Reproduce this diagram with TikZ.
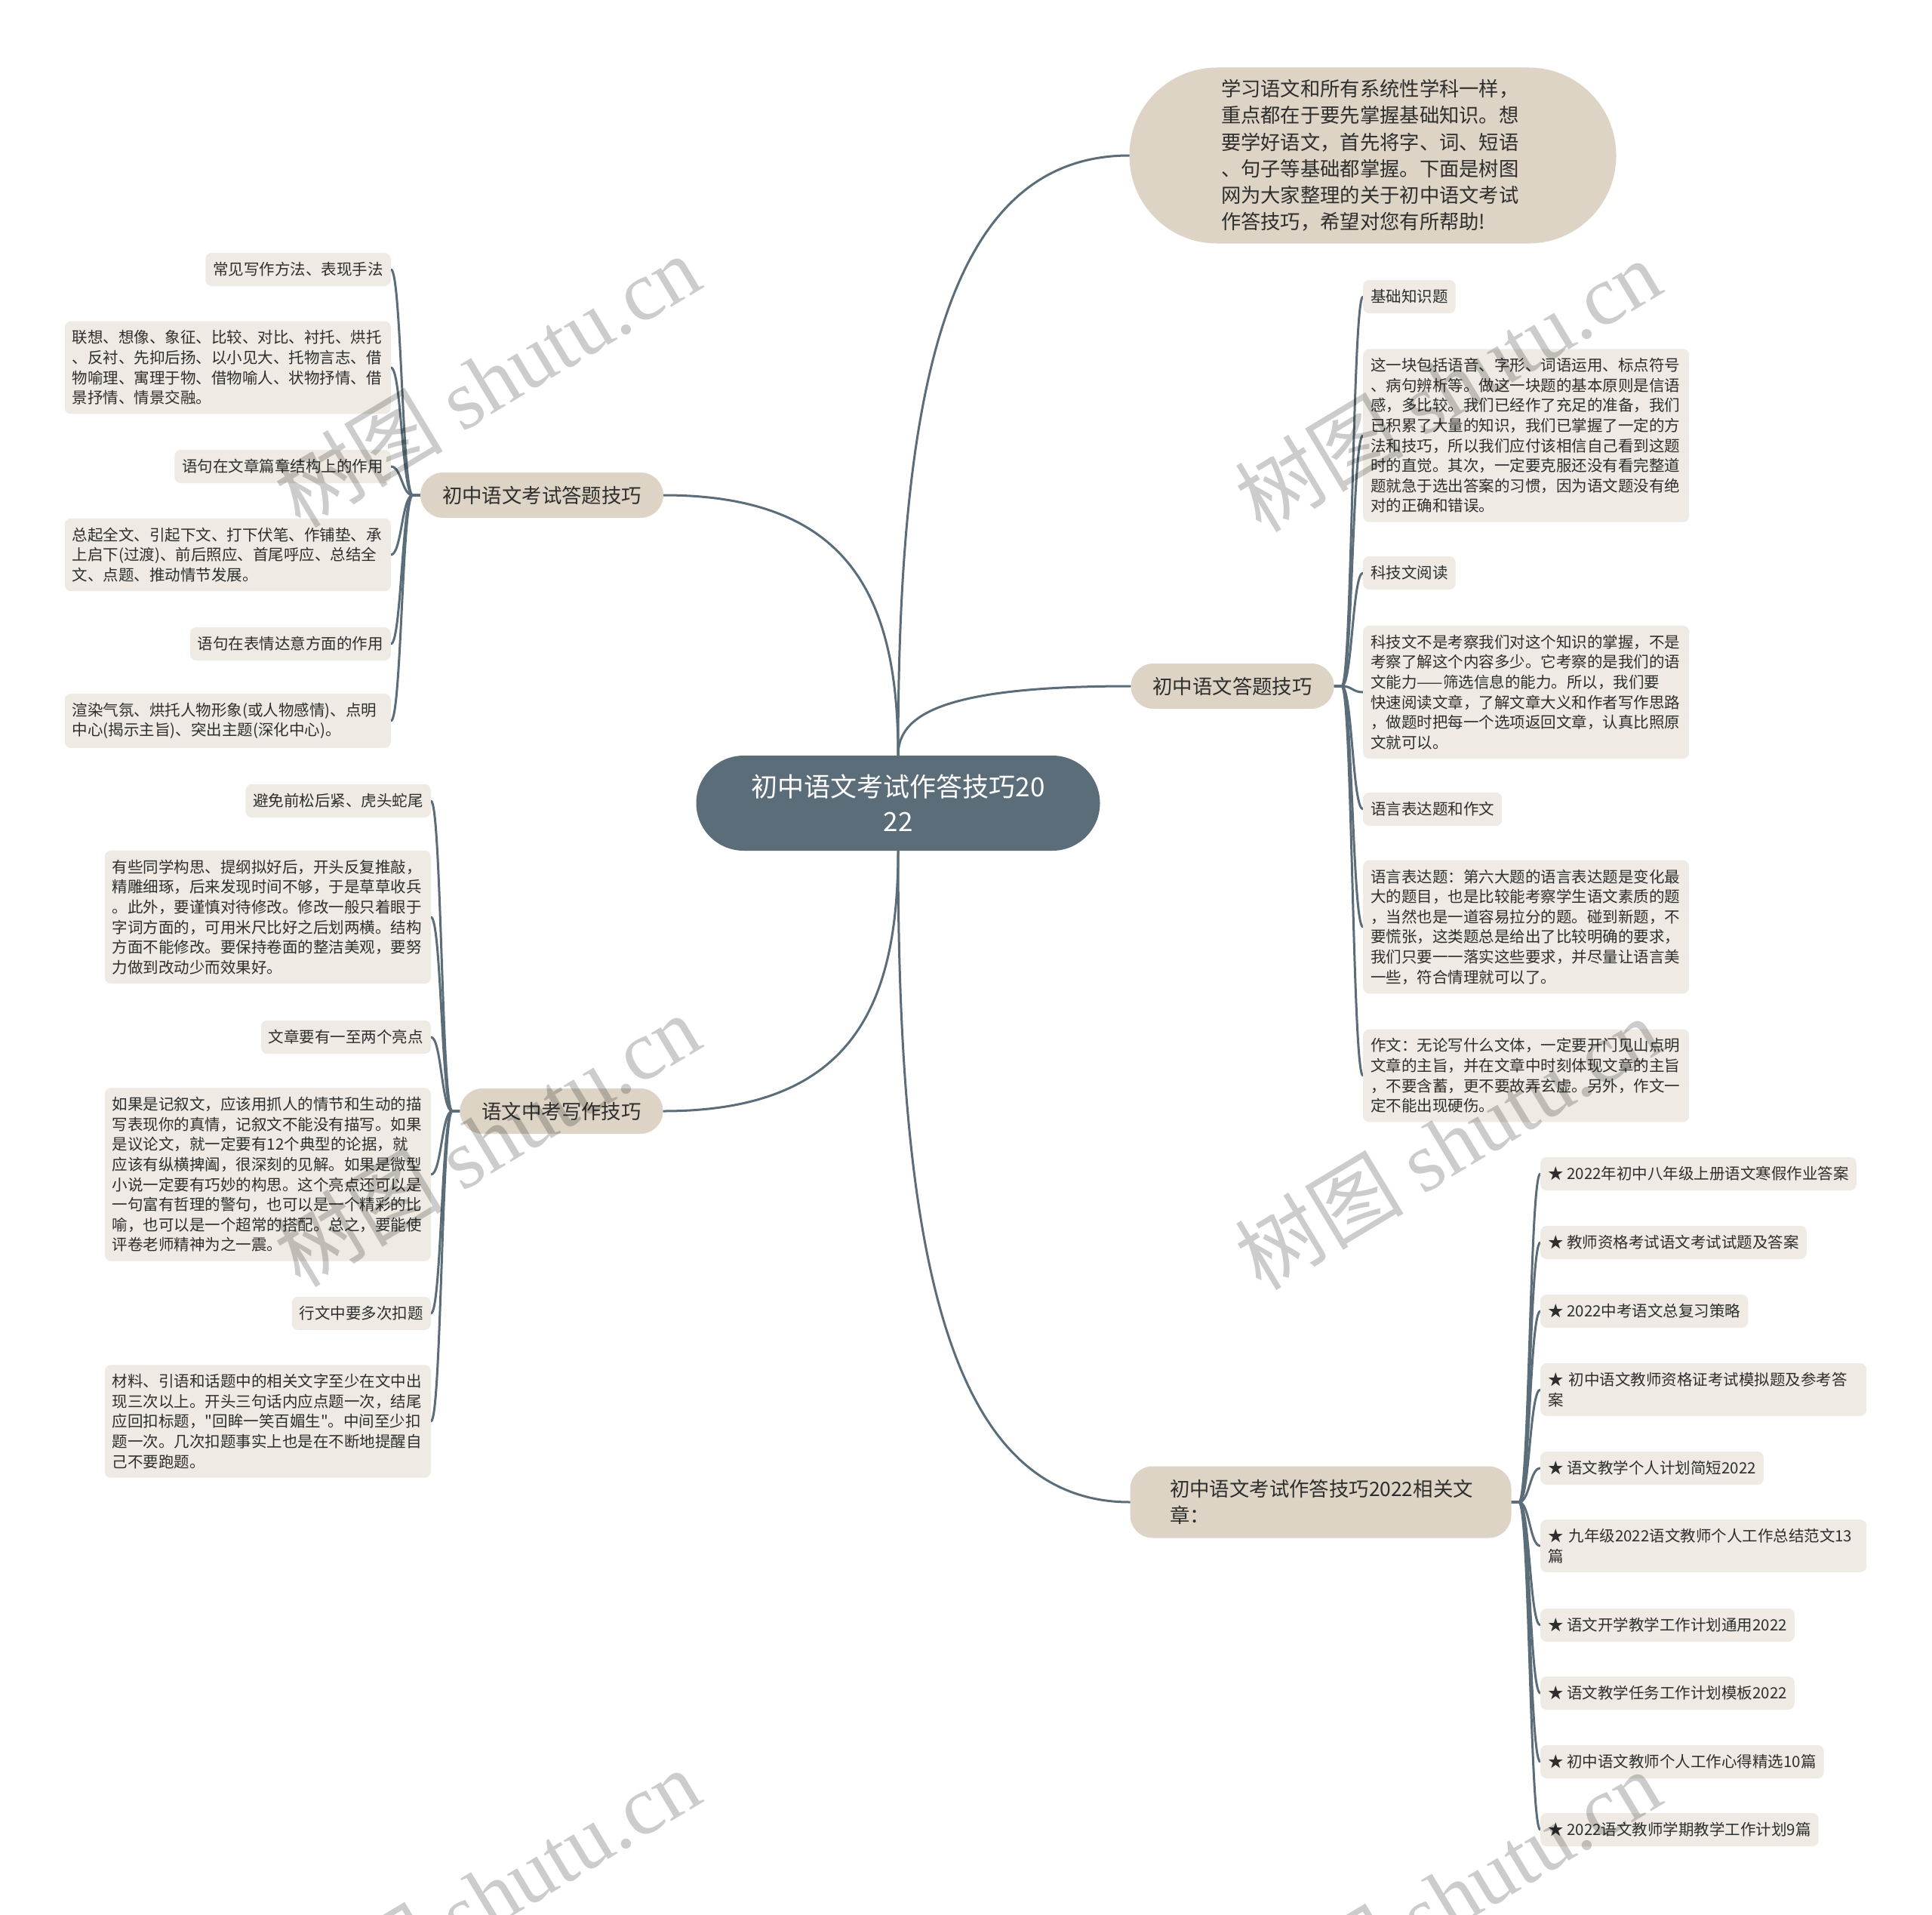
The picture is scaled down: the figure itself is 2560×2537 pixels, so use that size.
\documentclass[tikz,border=0pt]{standalone}
\usepackage{fontspec}
\setmainfont{Noto Sans CJK SC}[Ligatures=TeXOff]
\newfontfamily\wmserif{Liberation Serif}
\pgfdeclarelayer{bg}
\pgfdeclarelayer{paper}
\pgfsetlayers{paper,bg,main}
\definecolor{slate}{HTML}{5B6D79}
\definecolor{branchfill}{HTML}{DDD4C5}
\definecolor{leaffill}{HTML}{EFEBE4}
\definecolor{txt}{HTML}{2E2E2E}
\tikzset{
  conn/.style={draw=slate, line width=3pt, line cap=round},
  centernode/.style={fill=slate, text=white, rounded corners=63pt, minimum width=535pt, minimum height=126pt, align=center, font=\fontsize{35pt}{46pt}\selectfont, inner sep=0pt},
  intronode/.style={fill=branchfill, text=txt, rounded corners=116pt, minimum width=645pt, minimum height=233pt, text width=402pt, align=left, font=\fontsize{26.3pt}{35.2pt}\selectfont},
  branchnode/.style={fill=branchfill, text=txt, rounded corners=30pt, minimum height=60pt, inner xsep=29pt, font=\fontsize{26.4pt}{35pt}\selectfont},
  leafnode/.style={fill=leaffill, text=txt, rounded corners=8pt, minimum height=44pt, inner xsep=10pt, inner ysep=12pt, font=\fontsize{20.5pt}{26.6pt}\selectfont},
  longleaf/.style={leafnode, text width=412pt, align=left},
  wm/.style={text=black, text opacity=0.2, rotate=31, font=\fontsize{112pt}{112pt}\selectfont, inner sep=0pt},
}
\begin{document}
\begin{tikzpicture}[x=1pt,y=-1pt]
\begin{pgfonlayer}{paper}
\fill[white] (0,0) rectangle (2560,2537);
\end{pgfonlayer}
\useasboundingbox (0,0) rectangle (2560,2537);

% center and main branches
\node[centernode] (c) at (1190,1064) {初中语文考试作答技巧20\\22};
\node[intronode] (intro) at (1819,206) {学习语文和所有系统性学科一样，\\重点都在于要先掌握基础知识。想\\要学好语文，首先将字、词、短语\\、句子等基础都掌握。下面是树图\\网为大家整理的关于初中语文考试\\作答技巧，希望对您有所帮助!};
\node[branchnode] (b1) at (718,656) {初中语文考试答题技巧};
\node[branchnode] (b2) at (744,1472) {语文中考写作技巧};
\node[branchnode] (r1) at (1633,909) {初中语文答题技巧};
\node[branchnode, minimum width=505pt, minimum height=95pt, text width=400pt, align=left] (r2) at (1750,1990) {初中语文考试作答技巧2022相关文\\章：};

% left branch 1 leaves
\node[leafnode, anchor=east] (la1) at (518,357) {常见写作方法、表现手法};
\node[longleaf, anchor=east] (la2) at (518,487) {联想、想像、象征、比较、对比、衬托、烘托\\、反衬、先抑后扬、以小见大、托物言志、借\\物喻理、寓理于物、借物喻人、状物抒情、借\\景抒情、情景交融。};
\node[leafnode, anchor=east] (la3) at (518,618) {语句在文章篇章结构上的作用};
\node[longleaf, anchor=east] (la4) at (518,735) {总起全文、引起下文、打下伏笔、作铺垫、承\\上启下(过渡)、前后照应、首尾呼应、总结全\\文、点题、推动情节发展。};
\node[leafnode, anchor=east] (la5) at (518,853) {语句在表情达意方面的作用};
\node[longleaf, anchor=east] (la6) at (518,955) {渲染气氛、烘托人物形象(或人物感情)、点明\\中心(揭示主旨)、突出主题(深化中心)。};

% left branch 2 leaves
\node[leafnode, anchor=east] (lb1) at (571,1061) {避免前松后紧、虎头蛇尾};
\node[longleaf, anchor=east] (lb2) at (571,1215) {有些同学构思、提纲拟好后，开头反复推敲，\\精雕细琢，后来发现时间不够，于是草草收兵\\。此外，要谨慎对待修改。修改一般只着眼于\\字词方面的，可用米尺比好之后划两横。结构\\方面不能修改。要保持卷面的整洁美观，要努\\力做到改动少而效果好。};
\node[leafnode, anchor=east] (lb3) at (571,1374) {文章要有一至两个亮点};
\node[longleaf, anchor=east] (lb4) at (571,1556) {如果是记叙文，应该用抓人的情节和生动的描\\写表现你的真情，记叙文不能没有描写。如果\\是议论文，就一定要有12个典型的论据，就\\应该有纵横捭阖，很深刻的见解。如果是微型\\小说一定要有巧妙的构思。这个亮点还可以是\\一句富有哲理的警句，也可以是一个精彩的比\\喻，也可以是一个超常的搭配。总之，要能使\\评卷老师精神为之一震。};
\node[leafnode, anchor=east] (lb5) at (571,1740) {行文中要多次扣题};
\node[longleaf, anchor=east] (lb6) at (571,1883) {材料、引语和话题中的相关文字至少在文中出\\现三次以上。开头三句话内应点题一次，结尾\\应回扣标题，"回眸一笑百媚生"。中间至少扣\\题一次。几次扣题事实上也是在不断地提醒自\\己不要跑题。};

% right branch 1 leaves
\node[leafnode, anchor=west] (ra1) at (1806,393) {基础知识题};
\node[longleaf, anchor=west] (ra2) at (1806,577) {这一块包括语音、字形、词语运用、标点符号\\、病句辨析等。做这一块题的基本原则是信语\\感，多比较。我们已经作了充足的准备，我们\\已积累了大量的知识，我们已掌握了一定的方\\法和技巧，所以我们应付该相信自己看到这题\\时的直觉。其次，一定要克服还没有看完整道\\题就急于选出答案的习惯，因为语文题没有绝\\对的正确和错误。};
\node[leafnode, anchor=west] (ra3) at (1806,759) {科技文阅读};
\node[longleaf, anchor=west] (ra4) at (1806,917) {科技文不是考察我们对这个知识的掌握，不是\\考察了解这个内容多少。它考察的是我们的语\\文能力——筛选信息的能力。所以，我们要\\快速阅读文章，了解文章大义和作者写作思路\\，做题时把每一个选项返回文章，认真比照原\\文就可以。};
\node[leafnode, anchor=west] (ra5) at (1806,1072) {语言表达题和作文};
\node[longleaf, anchor=west] (ra6) at (1806,1228) {语言表达题：第六大题的语言表达题是变化最\\大的题目，也是比较能考察学生语文素质的题\\，当然也是一道容易拉分的题。碰到新题，不\\要慌张，这类题总是给出了比较明确的要求，\\我们只要一一落实这些要求，并尽量让语言美\\一些，符合情理就可以了。};
\node[longleaf, anchor=west] (ra7) at (1806,1425) {作文：无论写什么文体，一定要开门见山点明\\文章的主旨，并在文章中时刻体现文章的主旨\\，不要含蓄，更不要故弄玄虚。另外，作文一\\定不能出现硬伤。};

% right branch 2 leaves
\node[leafnode, anchor=west] (rb1) at (2041,1555) {★ 2022年初中八年级上册语文寒假作业答案};
\node[leafnode, anchor=west] (rb2) at (2041,1646) {★ 教师资格考试语文考试试题及答案};
\node[leafnode, anchor=west] (rb3) at (2041,1737) {★ 2022中考语文总复习策略};
\node[longleaf, anchor=west] (rb4) at (2041,1841) {★ 初中语文教师资格证考试模拟题及参考答\\案};
\node[leafnode, anchor=west] (rb5) at (2041,1945) {★ 语文教学个人计划简短2022};
\node[longleaf, anchor=west] (rb6) at (2041,2048) {★ 九年级2022语文教师个人工作总结范文13\\篇};
\node[leafnode, anchor=west] (rb7) at (2041,2153) {★ 语文开学教学工作计划通用2022};
\node[leafnode, anchor=west] (rb8) at (2041,2243) {★ 语文教学任务工作计划模板2022};
\node[leafnode, anchor=west] (rb9) at (2041,2334) {★ 初中语文教师个人工作心得精选10篇};
\node[leafnode, anchor=west] (rb10) at (2041,2424) {★ 2022语文教师学期教学工作计划9篇};

\begin{pgfonlayer}{bg}
\draw[conn] (c.north) .. controls (1190,794) and (1128,656) .. (b1.east);
\draw[conn] (c.north) .. controls (1190,525) and (1251,206) .. (intro.west);
\draw[conn] (c.north) .. controls (1190,946) and (1251,909) .. (r1.west);
\draw[conn] (c.south) .. controls (1190,1334) and (1128,1472) .. (b2.east);
\draw[conn] (c.south) .. controls (1190,1645) and (1251,1990) .. (r2.west);
\foreach \n in {la1,la2,la3,la4,la5,la6}
  \draw[conn] (b1.west) -- ++(-10,0) .. controls +(-14,0) and ([xshift=14pt]\n.east) .. (\n.east);
\foreach \n in {lb1,lb2,lb3,lb4,lb5,lb6}
  \draw[conn] (b2.west) -- ++(-10,0) .. controls +(-14,0) and ([xshift=14pt]\n.east) .. (\n.east);
\foreach \n in {ra1,ra2,ra3,ra4,ra5,ra6,ra7}
  \draw[conn] (r1.east) -- ++(10,0) .. controls +(14,0) and ([xshift=-14pt]\n.west) .. (\n.west);
\foreach \n in {rb1,rb2,rb3,rb4,rb5,rb6,rb7,rb8,rb9,rb10}
  \draw[conn] (r2.east) -- ++(10,0) .. controls +(14,0) and ([xshift=-14pt]\n.west) .. (\n.west);
\end{pgfonlayer}

% watermarks
\node[wm] (w1) at (645,504) {树图 {\wmserif shutu.cn}};
\node[wm] (w2) at (1918,510) {树图 {\wmserif shutu.cn}};
\node[wm] (w3) at (645,1510) {树图 {\wmserif shutu.cn}};
\node[wm] (w4) at (1918,1514) {树图 {\wmserif shutu.cn}};
\node[wm] (w5) at (645,2510) {树图 {\wmserif shutu.cn}};
\node[wm] (w6) at (1918,2512) {树图 {\wmserif shutu.cn}};
\end{tikzpicture}
\end{document}
